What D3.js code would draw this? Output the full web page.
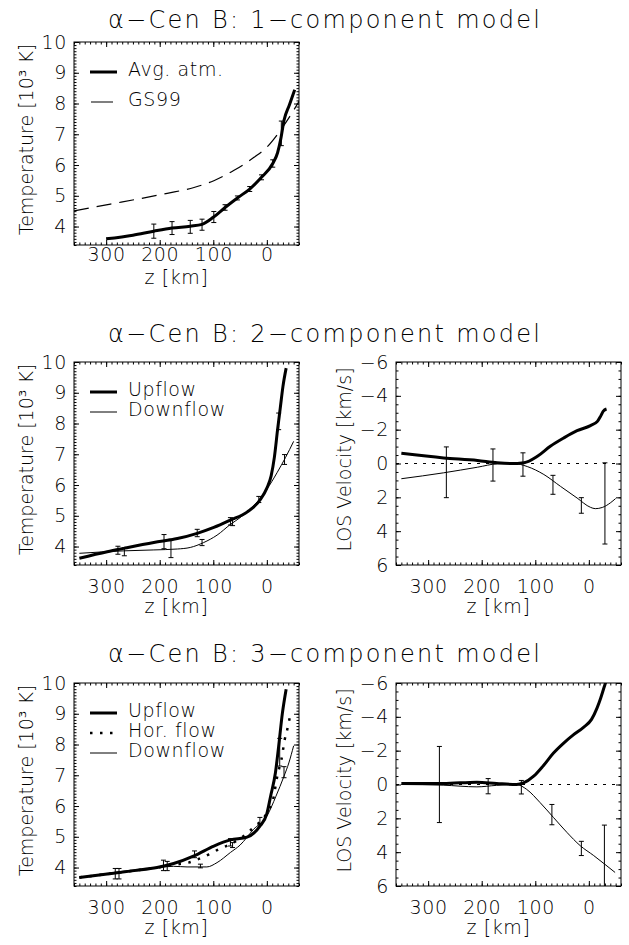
<!DOCTYPE html>
<html>
<head>
<meta charset="utf-8">
<script src="https://cdn.jsdelivr.net/npm/d3@7"></script>
<style>
  body { margin: 0; background: #fff; }
  svg text { font-family: "DejaVu Sans", sans-serif; font-weight: 200; fill: #000; }
</style>
</head>
<body>
<div id="chart"></div>
<script>
var width = 629, height = 945;

/* ---- data ---- */
var titles = ["\u03b1\u2212Cen B: 1\u2212component model",
              "\u03b1\u2212Cen B: 2\u2212component model",
              "\u03b1\u2212Cen B: 3\u2212component model"];

var zTicks = [300, 200, 100, 0];
var tTicks = [4, 5, 6, 7, 8, 9, 10];
var vTicks = [-6, -4, -2, 0, 2, 4, 6];

// 1-component
var avgZ = [300, 250, 211, 177, 143, 121, 100, 78, 55, 32, 10, -11, -20, -26, -32, -42, -52];
var avgT = [3.6, 3.72, 3.85, 3.95, 4.01, 4.07, 4.3, 4.62, 4.93, 5.22, 5.6, 6.05, 6.4, 6.85, 7.45, 7.95, 8.45];
var gsZ = [360, 292, 236, 186, 136, 99, 62, 24, 0, -25, -44, -61];
var gsT = [4.51, 4.73, 4.91, 5.08, 5.27, 5.49, 5.82, 6.25, 6.58, 7.12, 7.61, 8.1];
var errZ1 = [211, 177, 143, 121, 99, 78, 55, 32, 10, -11, -27];
var errT1 = [3.85, 3.95, 3.99, 4.06, 4.31, 4.62, 4.93, 5.22, 5.6, 6.05, 7.03];
var errE1 = [0.23, 0.21, 0.21, 0.18, 0.18, 0.09, 0.065, 0.08, 0.08, 0.12, 0.4];

// 2-component, temperature
var up2Z = [350, 298, 267, 211, 167, 130, 99, 68, 37, 12, 0, -8, -14, -20, -25, -30, -36];
var up2T = [3.62, 3.83, 3.94, 4.13, 4.26, 4.43, 4.62, 4.86, 5.12, 5.53, 5.9, 6.3, 6.9, 7.8, 8.5, 9.2, 9.8];
var dn2Z = [350, 267, 211, 167, 143, 118, 93, 68, 50, 25, 0, -19, -35, -50];
var dn2T = [3.78, 3.86, 3.89, 3.92, 3.97, 4.13, 4.37, 4.72, 4.94, 5.32, 5.86, 6.4, 6.9, 7.42];
var errZ2 = [278, 266, 192, 179, 130, 121, 68, 64, 15, -22, -33];
var errT2 = [3.88, 3.83, 4.16, 3.94, 4.44, 4.13, 4.82, 4.78, 5.53, 8.07, 6.83];
var errE2 = [0.13, 0.13, 0.23, 0.3, 0.12, 0.1, 0.12, 0.1, 0.1, 0.27, 0.16];

// 2-component, velocity
var vup2Z = [350, 271, 208, 171, 146, 121, 96, 72, 47, 22, -3, -16, -22, -27, -33];
var vup2V = [-0.6, -0.33, -0.18, -0.04, 0.0, -0.05, -0.43, -1.02, -1.51, -1.94, -2.24, -2.49, -2.8, -3.1, -3.22];
var vdn2Z = [350, 271, 208, 171, 140, 115, 84, 53, 22, -3, -12, -25, -40, -50];
var vdn2V = [0.9, 0.55, 0.22, 0.02, 0.0, 0.18, 0.65, 1.35, 2.04, 2.59, 2.67, 2.6, 2.33, 2.07];
var verrZ2 = [266, 179, 123, 67, 14, -30];
var verrV2 = [0.52, 0.09, 0.06, 1.26, 2.48, 2.36];
var verrE2 = [1.5, 0.95, 0.69, 0.56, 0.46, 2.4];

// 3-component, temperature
var up3Z = [350, 298, 248, 205, 174, 136, 99, 68, 37, 12, 0, -7, -16, -22, -29, -36];
var up3T = [3.68, 3.79, 3.9, 4.0, 4.13, 4.38, 4.7, 4.9, 4.99, 5.37, 5.75, 6.32, 7.08, 7.94, 9.02, 9.8];
var hor3Z = [350, 205, 185, 165, 146, 126, 108, 89, 68, 50, 25, 0, -13, -18, -22, -27, -30, -33, -38, -43];
var hor3T = [3.68, 4.0, 4.05, 4.11, 4.16, 4.29, 4.43, 4.6, 4.76, 4.94, 5.3, 5.78, 6.32, 6.84, 7.16, 7.49, 7.81, 8.13, 8.48, 8.9];
var dn3Z = [350, 205, 174, 149, 112, 93, 68, 50, 25, 0, -17, -32, -41, -50];
var dn3T = [3.68, 4.0, 4.04, 4.02, 4.02, 4.16, 4.49, 4.73, 5.24, 5.67, 6.32, 6.97, 7.4, 7.96];
var errZ3 = [283, 276, 193, 186, 135, 124, 68, 64, 13, -24, -32];
var errT3 = [3.8, 3.8, 4.07, 4.05, 4.43, 4.05, 4.82, 4.73, 5.51, 7.75, 7.1];
var errE3 = [0.17, 0.17, 0.17, 0.15, 0.11, 0.06, 0.12, 0.08, 0.12, 0.45, 0.18];

// 3-component, velocity
var vup3Z = [350, 272, 209, 172, 135, 122, 103, 85, 66, 47, 29, 10, -5, -15, -22, -28, -32];
var vup3V = [-0.06, -0.06, -0.14, -0.06, 0.0, -0.09, -0.49, -1.11, -1.86, -2.45, -2.93, -3.38, -3.85, -4.5, -5.1, -5.7, -6.1];
var vdn3Z = [350, 272, 209, 172, 135, 116, 91, 66, 41, 16, -9, -30, -49];
var vdn3V = [0.0, 0.04, 0.14, 0.05, 0.0, 0.29, 1.07, 1.95, 2.83, 3.62, 4.2, 4.72, 5.2];
var verrZ3 = [279, 188, 126, 69, 14, -29];
var verrV3 = [0.0, 0.1, 0.16, 1.78, 3.78, 4.5];
var verrE3 = [2.25, 0.45, 0.4, 0.6, 0.42, 2.1];

/* ---- layout ---- */
var svg = d3.select("#chart").append("svg")
    .attr("width", width)
    .attr("height", height);

var panelW = 225, panelH = 203;
var clipId = 0;

function minus(d) { return d < 0 ? "\u2212" + Math.abs(d) : "" + d; }

// tickBase / labelBase: baselines of tick labels and of "z [km]" below the box
function makePanel(left, top, yDomain, yTicks, yMinor, yLabel, labelX, tickBase, labelBase) {
  var x = d3.scaleLinear().domain([360, -60]).range([0, panelW]);
  var y = d3.scaleLinear().domain(yDomain).range([panelH, 0]);
  var g = svg.append("g").attr("transform", "translate(" + left + "," + top + ")");

  clipId++;
  g.append("clipPath").attr("id", "clip" + clipId)
    .append("rect").attr("width", panelW).attr("height", panelH);

  var zMinor = d3.range(-60, 361, 10);

  // minor ticks, all four sides, pointing in
  g.append("g").attr("transform", "translate(0," + panelH + ")")
    .call(d3.axisBottom(x).tickValues(zMinor).tickSize(-2.5).tickFormat(""));
  g.append("g").call(d3.axisTop(x).tickValues(zMinor).tickSize(-2.5).tickFormat(""));
  g.append("g").call(d3.axisLeft(y).tickValues(yMinor).tickSize(-2.5).tickFormat(""));
  g.append("g").attr("transform", "translate(" + panelW + ",0)")
    .call(d3.axisRight(y).tickValues(yMinor).tickSize(-2.5).tickFormat(""));

  // major ticks
  var xb = g.append("g").attr("transform", "translate(0," + panelH + ")")
    .call(d3.axisBottom(x).tickValues(zTicks).tickSize(-5));
  g.append("g").call(d3.axisTop(x).tickValues(zTicks).tickSize(-5).tickFormat(""));
  var yl = g.append("g")
    .call(d3.axisLeft(y).tickValues(yTicks).tickSize(-5).tickPadding(7).tickFormat(minus));
  g.append("g").attr("transform", "translate(" + panelW + ",0)")
    .call(d3.axisRight(y).tickValues(yTicks).tickSize(-5).tickFormat(""));

  g.selectAll(".domain").remove();
  g.selectAll(".tick line").attr("stroke", "#000").attr("stroke-width", 1);
  xb.selectAll("text")
    .attr("y", tickBase).attr("dy", null)
    .attr("font-size", 19).attr("letter-spacing", 0.6).attr("font-family", null);
  yl.selectAll("text")
    .attr("font-size", 19).attr("letter-spacing", 0.6).attr("font-family", null);

  g.append("rect")
    .attr("width", panelW).attr("height", panelH)
    .attr("fill", "none").attr("stroke", "#000").attr("stroke-width", 1);

  g.append("text")
    .attr("x", panelW / 2 - 10).attr("y", panelH + labelBase)
    .attr("text-anchor", "middle").attr("font-size", 19).attr("letter-spacing", 0.6)
    .text("z [km]");

  g.append("text")
    .attr("transform", "translate(" + labelX + "," + (panelH / 2 - 4) + ") rotate(-90)")
    .attr("text-anchor", "middle").attr("font-size", 19)
    .text(yLabel);

  var plot = g.append("g").attr("clip-path", "url(#clip" + clipId + ")");
  return { g: g, plot: plot, x: x, y: y };
}

function drawLine(p, zs, vs, sw, dash) {
  var line = d3.line()
    .x(function(d) { return p.x(d[0]); })
    .y(function(d) { return p.y(d[1]); })
    .curve(d3.curveMonotoneX);
  p.plot.append("path")
    .datum(d3.zip(zs, vs))
    .attr("d", line)
    .attr("fill", "none")
    .attr("stroke", "#000")
    .attr("stroke-width", sw)
    .attr("stroke-dasharray", dash || null);
}

function drawErrors(p, zs, vs, es) {
  var rows = d3.zip(zs, vs, es);
  var eg = p.plot.append("g").attr("stroke", "#000").attr("stroke-width", 1);
  rows.forEach(function(d) {
    var cx = p.x(d[0]), y0 = p.y(d[1] - d[2]), y1 = p.y(d[1] + d[2]);
    eg.append("line").attr("x1", cx).attr("x2", cx).attr("y1", y0).attr("y2", y1);
    eg.append("line").attr("x1", cx - 2.5).attr("x2", cx + 2.5).attr("y1", y0).attr("y2", y0);
    eg.append("line").attr("x1", cx - 2.5).attr("x2", cx + 2.5).attr("y1", y1).attr("y2", y1);
  });
}

function zeroLine(p) {
  p.plot.append("line")
    .attr("x1", 0).attr("x2", panelW)
    .attr("y1", p.y(0)).attr("y2", p.y(0))
    .attr("stroke", "#000").attr("stroke-width", 1)
    .attr("stroke-dasharray", "3,6");
}

function legend(p, items, y0, step) {
  items.forEach(function(it, i) {
    var yy = y0 + i * step;
    p.g.append("line")
      .attr("x1", 16).attr("x2", 43)
      .attr("y1", yy - 4).attr("y2", yy - 4)
      .attr("stroke", "#000").attr("stroke-width", it.sw)
      .attr("stroke-dasharray", it.dash || null);
    p.g.append("text")
      .attr("x", 54).attr("y", yy)
      .attr("font-size", 19).attr("letter-spacing", 0.6)
      .text(it.label);
  });
}

function title(txt, yy) {
  svg.append("text")
    .attr("x", 324).attr("y", yy)
    .attr("text-anchor", "middle")
    .attr("font-size", 24)
    .attr("textLength", 432)
    .attr("lengthAdjust", "spacing")
    .text(txt);
}

var tempLabel = "Temperature [10\u00b3 K]";
var velLabel = "LOS Velocity [km/s]";
var tMinor = d3.range(34, 101, 1).map(function(d) { return d / 10; });
var vMinor = d3.range(-12, 13, 1).map(function(d) { return d / 2; });

/* ---- row 1 ---- */
title(titles[0], 28);
var p1 = makePanel(74, 42, [3.4, 10], tTicks, tMinor, tempLabel, -41, 16, 39);
drawLine(p1, gsZ, gsT, 1.2, "15,8");
drawLine(p1, avgZ, avgT, 3);
drawErrors(p1, errZ1, errT1, errE1);
legend(p1, [{label: "Avg. atm.", sw: 3}, {label: "GS99", sw: 1.2, dash: "0,1,22,30"}], 34, 30);

/* ---- row 2 ---- */
title(titles[1], 342);
var p2 = makePanel(74, 362, [3.4, 10], tTicks, tMinor, tempLabel, -41, 28, 48);
drawLine(p2, dn2Z, dn2T, 1);
drawLine(p2, up2Z, up2T, 3);
drawErrors(p2, errZ2, errT2, errE2);
legend(p2, [{label: "Upflow", sw: 3}, {label: "Downflow", sw: 1}], 34, 20);

var p2v = makePanel(396, 362, [6, -6], vTicks, vMinor, velLabel, -45, 28, 48);
zeroLine(p2v);
drawLine(p2v, vdn2Z, vdn2V, 1);
drawLine(p2v, vup2Z, vup2V, 3);
drawErrors(p2v, verrZ2, verrV2, verrE2);

/* ---- row 3 ---- */
title(titles[2], 662);
var p3 = makePanel(74, 683, [3.4, 10], tTicks, tMinor, tempLabel, -41, 28, 48);
drawLine(p3, dn3Z, dn3T, 1);
drawLine(p3, hor3Z, hor3T, 2.5, "2.5,7.5");
drawLine(p3, up3Z, up3T, 3);
drawErrors(p3, errZ3, errT3, errE3);
legend(p3, [{label: "Upflow", sw: 3}, {label: "Hor. flow", sw: 2.5, dash: "2.5,7.5"},
            {label: "Downflow", sw: 1}], 34, 20);

var p3v = makePanel(396, 683, [6, -6], vTicks, vMinor, velLabel, -45, 28, 48);
zeroLine(p3v);
drawLine(p3v, vdn3Z, vdn3V, 1);
drawLine(p3v, vup3Z, vup3V, 3);
drawErrors(p3v, verrZ3, verrV3, verrE3);
</script>
</body>
</html>
